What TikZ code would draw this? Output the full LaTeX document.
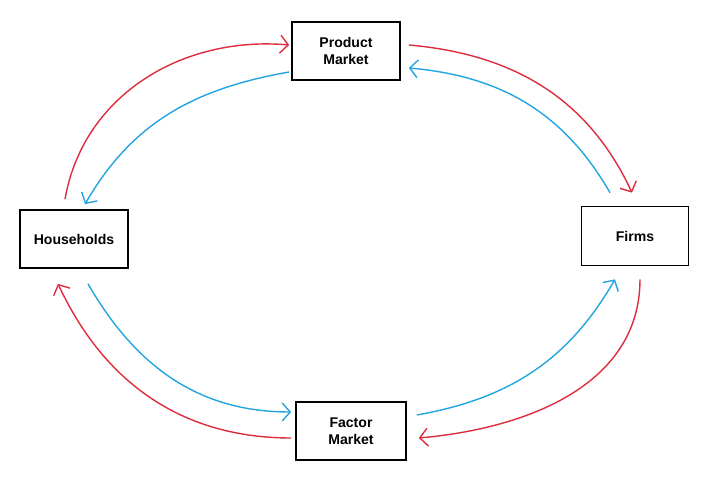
\documentclass[tikz,border=0pt]{standalone}
\usepackage{fontspec}
\setmainfont{Liberation Sans}
\usetikzlibrary{arrows.meta,positioning}
\definecolor{flowred}{RGB}{222,45,60}
\definecolor{flowblue}{RGB}{35,165,225}
\begin{document}
\begin{tikzpicture}
[place/.style={rectangle,draw=black,line width=1.2pt,fill=white,minimum width=2.7cm,minimum height=1.45cm,align=center,font=\bfseries},
 money/.style={-{Straight Barb[length=2mm,width=4.5mm]},flowred,line width=1pt},
 goods/.style={-{Straight Barb[length=2mm,width=4.5mm]},flowblue,line width=1pt}]
\useasboundingbox (0,0) rectangle (18,12.275);
\node[place] (households) at (1.85,6.3) {Households};
\node[place] (product) at (8.65,11.0) {Product\\Market};
\node[place,minimum width=2.675cm,minimum height=1.475cm] (firms) at (15.875,6.375) {Firms};
\node[place,minimum width=2.75cm] (factor) at (8.775,1.5) {Factor\\Market};
% upper half
\draw[money] ([xshift=-0.225cm,yshift=0.25cm]households.north) to [out=80,in=175] ([xshift=-0.05cm,yshift=0.15cm]product.west);
\draw[goods] ([xshift=-0.05cm,yshift=-0.525cm]product.west) to [out=190,in=60] ([xshift=0.275cm,yshift=0.125cm]households.north);
\draw[money] ([xshift=0.2cm,yshift=0.15cm]product.east) to [out=-5,in=115] ([xshift=-0.075cm,yshift=0.325cm]firms.north);
\draw[goods] ([xshift=-0.625cm,yshift=0.325cm]firms.north) to [out=120,in=-5] ([xshift=0.2cm,yshift=-0.425cm]product.east);
% lower half
\draw[goods] ([xshift=0.35cm,yshift=-0.375cm]households.south) to [out=-60,in=180] ([xshift=-0.1cm,yshift=0.475cm]factor.west);
\draw[money] ([xshift=-0.1cm,yshift=-0.175cm]factor.west) to [out=180,in=-65] ([xshift=-0.4cm,yshift=-0.375cm]households.south);
\draw[goods] ([xshift=0.25cm,yshift=0.4cm]factor.east) to [out=10,in=-120] ([xshift=-0.5cm,yshift=-0.325cm]firms.south);
\draw[money] ([xshift=0.125cm,yshift=-0.325cm]firms.south) to [out=-90,in=5] ([xshift=0.3cm,yshift=-0.175cm]factor.east);
\end{tikzpicture}
\end{document}
